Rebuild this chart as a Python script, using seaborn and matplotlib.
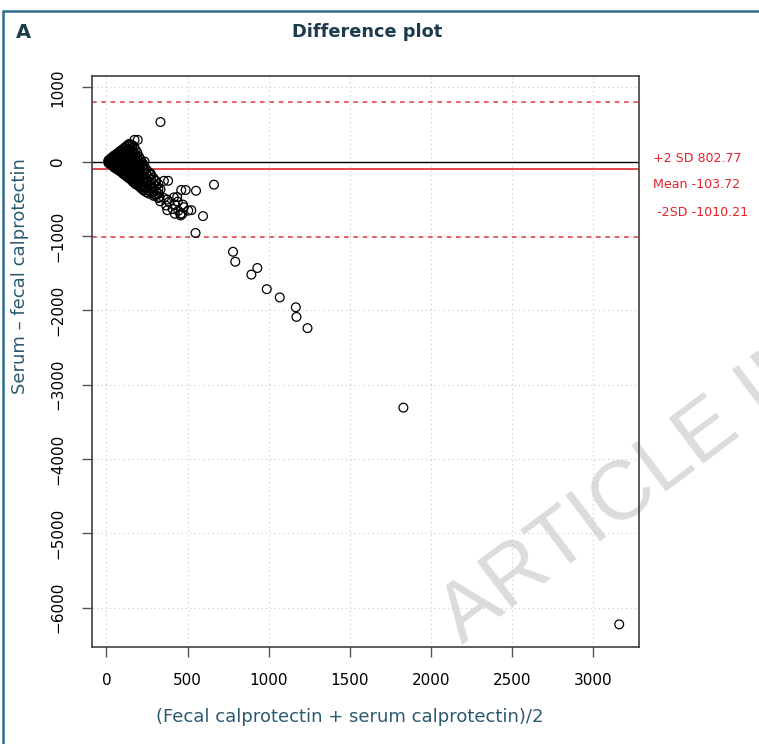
import matplotlib
matplotlib.use("Agg")
import matplotlib.pyplot as plt
import seaborn as sns
import pandas as pd
from matplotlib.lines import Line2D

# ---------------- data ----------------
# dense cluster: average value and matching differences
cluster_avg = (
    [12] * 3 + [20] * 3 + [28] * 4 + [36] * 5 + [44] * 6 + [52] * 6 + [60] * 6 +
    [70] * 7 + [80] * 7 + [90] * 7 + [100] * 8 + [110] * 8 + [120] * 8 +
    [130] * 9 + [140] * 9 + [150] * 9 + [160] * 9 + [170] * 9 + [180] * 9 +
    [190] * 8 + [200] * 8 + [210] * 8 + [220] * 7 + [230] * 7 + [245] * 6 +
    [260] * 6 + [275] * 5 + [290] * 5 + [305] * 4 + [320] * 4
)
cluster_diff = [
    0, 15, -15,
    30, 0, -30,
    45, 15, -15, -40,
    60, 25, -5, -35, -55,
    75, 40, 10, -20, -50, -70,
    85, 50, 15, -20, -55, -85,
    100, 60, 20, -20, -60, -95,
    115, 75, 30, -10, -50, -90, -110,
    135, 90, 45, 0, -45, -90, -125,
    150, 105, 55, 10, -40, -85, -135,
    165, 120, 70, 20, -30, -80, -130, -160,
    185, 135, 80, 30, -20, -75, -125, -175,
    200, 150, 95, 40, -15, -70, -120, -190,
    220, 160, 100, 45, -10, -65, -120, -175, -210,
    236, 170, 110, 50, -5, -60, -115, -170, -225,
    230, 160, 100, 40, -20, -80, -140, -200, -240,
    220, 150, 80, 10, -50, -110, -170, -230, -265,
    200, 120, 50, -20, -80, -140, -200, -260, -285,
    160, 90, 20, -40, -100, -160, -220, -280, -305,
    120, 50, -10, -70, -130, -190, -250, -310,
    70, 10, -50, -110, -170, -230, -290, -330,
    30, -30, -90, -150, -210, -270, -330, -350,
    -10, -70, -130, -190, -250, -310, -370,
    -40, -100, -160, -220, -280, -340, -390,
    -100, -160, -220, -280, -340, -410,
    -140, -200, -260, -320, -380, -430,
    -180, -240, -300, -360, -420,
    -220, -290, -350, -410, -460,
    -260, -330, -390, -450,
    -300, -370, -430, -490,
]
# separate points
spread_avg = [333, 173, 193, 142, 235, 227, 272, 269, 354, 380, 302, 333,
              298, 327, 331, 354, 375, 385, 375, 368, 415, 436, 440, 422,
              471, 422, 457, 457, 408, 443, 467, 523, 504, 477, 461, 488,
              552, 663, 595, 549, 216, 220, 780, 794, 893, 930, 988, 1068,
              1167, 1171, 1239, 1830, 3160]
spread_diff = [533, 293, 293, 236, 0, -56, -160, -168, -258, -258, -258, -373,
               -449, -476, -533, -489, -511, -542, -653, -591, -482, -476, -538, -578,
               -578, -702, -702, -724, -638, -661, -705, -653, -658, -613, -382, -382,
               -392, -310, -733, -960, -329, -351, -1213, -1347, -1520, -1431, -1716, -1827,
               -1960, -2089, -2240, -3310, -6225]

upper_sd = 802.77
mean_diff = -103.72
lower_sd = -1010.21

x_ticks = [0, 500, 1000, 1500, 2000, 2500, 3000]
y_ticks = [1000, 0, -1000, -2000, -3000, -4000, -5000, -6000]

df = pd.DataFrame({
    "avg": cluster_avg + spread_avg,
    "diff": cluster_diff + spread_diff,
})

# ---------------- figure ----------------
sns.set_style("white")
plt.rcParams["font.family"] = ["DejaVu Sans"]
W, H = 759, 744
fig = plt.figure(figsize=(W / 100, H / 100), dpi=100)
ax = fig.add_axes([92 / W, 1 - 647 / H, (639 - 92) / W, (647 - 76) / H])
ax.set_facecolor("none")

ax.set_xlim(-89, 3282)
ax.set_ylim(-6530, 1152)
ax.set_xticks(x_ticks)
ax.set_yticks(y_ticks)
ax.grid(True, linestyle=(0, (1, 3)), color="#c8c8c8", linewidth=0.8)
ax.set_axisbelow(True)

ax.axhline(0, color="black", linewidth=1.0, zorder=2)
ax.axhline(mean_diff, color="#e0262c", linewidth=1.2, zorder=2)
ax.axhline(upper_sd, color="#e8474c", linewidth=1.2, linestyle=(0, (2.8, 2.8)), zorder=2)
ax.axhline(lower_sd, color="#e8474c", linewidth=1.2, linestyle=(0, (2.8, 2.8)), zorder=2)

sns.scatterplot(data=df, x="avg", y="diff", ax=ax, marker="o", s=40,
                facecolors="none", edgecolor="black", linewidth=0.9, zorder=3)

for sp in ax.spines.values():
    sp.set_visible(True)
    sp.set_color("#404040")
    sp.set_linewidth(1.2)

ax.tick_params(axis="both", which="both", direction="out", length=7.5, width=1.0,
               color="#555555", labelsize=11, labelcolor="black", bottom=True, left=True)
ax.tick_params(axis="x", pad=11)
ax.tick_params(axis="y", pad=12, labelrotation=90)
for lab in ax.get_yticklabels():
    lab.set_va("center")
ax.set_xlabel("")
ax.set_ylabel("")

label_color = "#2b5a70"
fig.text(350 / W, 1 - 717 / H, "(Fecal calprotectin + serum calprotectin)/2",
         ha="center", va="center", fontsize=13, color=label_color)
fig.text(20 / W, 1 - 276 / H, "Serum – fecal calprotectin", rotation=90,
         ha="center", va="center", fontsize=13, color=label_color)

# title and panel letter
fig.text(367 / W, 1 - 32 / H, "Difference plot", ha="center", va="center",
         fontsize=12.8, fontweight="bold", color="#1c3b4d")
fig.text(23 / W, 1 - 33 / H, "A", ha="center", va="center",
         fontsize=14, fontweight="bold", color="#1c3b4d")

# limit annotations
red = "#e8202a"
fig.text(653 / W, 1 - 158 / H, "+2 SD 802.77", ha="left", va="center", fontsize=9.1, color=red)
fig.text(653 / W, 1 - 185 / H, "Mean -103.72", ha="left", va="center", fontsize=9.1, color=red)
fig.text(657 / W, 1 - 212 / H, "-2SD -1010.21", ha="left", va="center", fontsize=9.1, color=red)

# watermark
fig.text(462 / W, 1 - 645 / H, "ARTICLE IN PRESS", rotation=37, rotation_mode="anchor",
         ha="left", va="baseline", fontsize=60, family="Liberation Sans",
         color="#dcdcdc", zorder=-1)

# panel border
bc = "#2f6e8f"
fig.add_artist(Line2D([2.5 / W, 2.5 / W], [0, 1 - 11 / H], transform=fig.transFigure,
                      color=bc, linewidth=1.8))
fig.add_artist(Line2D([2.5 / W, 1], [1 - 11 / H, 1 - 11 / H], transform=fig.transFigure,
                      color=bc, linewidth=1.8))

fig.savefig("out.png", dpi=100)
